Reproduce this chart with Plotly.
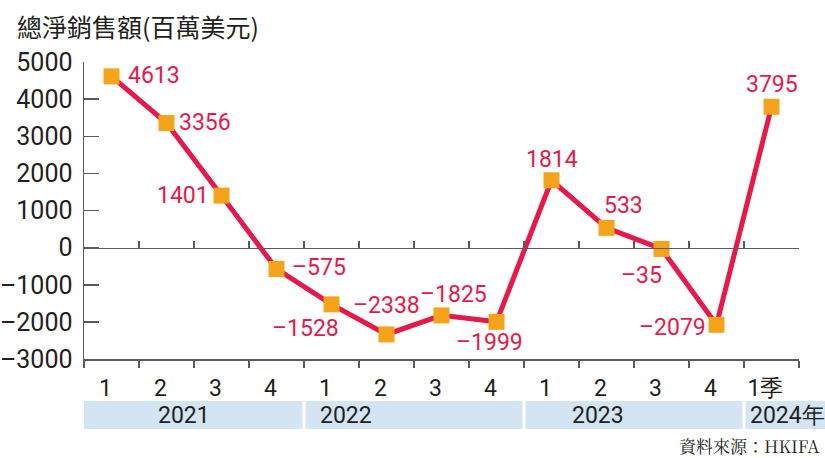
import plotly.graph_objects as go

# ---- data ----
quarters = ["1", "2", "3", "4", "1", "2", "3", "4", "1", "2", "3", "4", "1季"]
values = [4613, 3356, 1401, -575, -1528, -2338, -1825, -1999, 1814, 533, -35, -2079, 3795]
years = ["2021", "2022", "2023", "2024年"]
year_start = [0, 4, 8, 12]
year_end = [4, 8, 12, 13]
y_ticks = [-3000, -2000, -1000, 0, 1000, 2000, 3000, 4000, 5000]

# label offsets (pixels) relative to each marker
label_dx = [42, 38, -39, 42, -26, 0, 12, -7, 0, 17, -20, -44, 0]
label_dy = [1, 1, 0, 1, -24, 29, 21, -21, 21, 22, -27, -3, 22]
year_label_dx = [100, 40, 72, 42]  # px from band start

FONT = "Liberation Sans Narrow, Arial Narrow, Roboto, Liberation Sans, sans-serif"
TXT = "#231f20"
RED = "#e8194a"
ORANGE = "#f5a31a"
BAND = "#d3e4f3"
AXC = "#5a5a5a"

W, H = 825, 458
L, R, T, B = 84, 26, 62, 99
PW = W - L - R
PH = H - T - B

x = list(range(len(values)))
bounds = [i - 0.5 for i in range(len(values) + 1)]

def fmt(v):
    return str(v).replace("-", "–")

def py(pix):
    """pixel row -> paper y"""
    return (T + PH - pix) / PH

fig = go.Figure()
fig.add_trace(go.Scatter(
    x=x, y=values, mode="lines+markers",
    line=dict(color=RED, width=5),
    marker=dict(symbol="square", size=16, color=ORANGE),
    hoverinfo="skip", showlegend=False, cliponaxis=False,
))
# invisible trace for the zero-line axis
fig.add_trace(go.Scatter(x=[x[0]], y=[0], xaxis="x2", mode="markers",
                         marker=dict(opacity=0), hoverinfo="skip", showlegend=False))

annotations = []
for xi, v, dx, dy in zip(x, values, label_dx, label_dy):
    annotations.append(dict(
        x=xi, y=v, xref="x", yref="y", text=fmt(v), showarrow=False,
        xshift=dx, yshift=dy, xanchor="center", yanchor="middle",
        font=dict(family=FONT, size=23, color=RED),
    ))

shapes = []
n = len(values)
gap = 1.5 / PW
for i, (yr, s, e) in enumerate(zip(years, year_start, year_end)):
    x0 = s / n + (0 if i == 0 else gap)
    x1 = e / n - gap if i < len(years) - 1 else (W - L) / PW
    shapes.append(dict(type="rect", xref="paper", yref="paper",
                       x0=x0, x1=x1, y0=py(429), y1=py(401),
                       fillcolor=BAND, line=dict(width=0), layer="below"))
    annotations.append(dict(
        x=x0, y=py(415), xref="paper", yref="paper",
        text=yr, showarrow=False, xanchor="center", yanchor="middle", xshift=year_label_dx[i],
        font=dict(family=FONT, size=23, color=TXT),
    ))

annotations.append(dict(
    x=1, y=py(446), xref="paper", yref="paper", text="資料來源：HKIFA",
    showarrow=False, xanchor="right", yanchor="middle", xshift=23,
    font=dict(family="Noto Serif CJK TC, DejaVu Serif, serif", size=17, color=TXT),
))

fig.update_layout(
    width=W, height=H,
    margin=dict(l=L, r=R, t=T, b=B, pad=0, autoexpand=False),
    paper_bgcolor="white", plot_bgcolor="white",
    title=dict(text="總淨銷售額(百萬美元)", x=17 / W, xanchor="left", xref="container",
               y=1 - 28 / H, yanchor="middle", yref="container", automargin=False,
               font=dict(family="Liberation Sans Narrow, Noto Sans CJK TC, sans-serif", size=25, color=TXT)),
    xaxis=dict(range=[-0.5, n - 0.5], tickmode="array", tickvals=x, ticktext=quarters,
               showgrid=False, zeroline=False, showline=True, linecolor=AXC, linewidth=1.5,
               ticks="", ticklabelstandoff=8, ticklabelshift=-6, automargin=False,
               tickfont=dict(family=FONT, size=23, color=TXT),
               minor=dict(tickmode="array", tickvals=bounds, ticks="outside", ticklen=7,
                          tickwidth=1.5, tickcolor=AXC, showgrid=False)),
    xaxis2=dict(range=[-0.5, n - 0.5], overlaying="x", anchor="free", position=3000 / 8000,
                showline=True, linecolor=AXC, linewidth=1.5, showgrid=False, zeroline=False,
                tickmode="array", tickvals=bounds, ticks="inside", ticklen=7, tickwidth=1.5,
                tickcolor=AXC, showticklabels=False, side="bottom", automargin=False),
    yaxis=dict(range=[-3000, 5000], tickmode="array", tickvals=y_ticks,
               ticktext=[fmt(t) for t in y_ticks], showgrid=False, zeroline=False,
               showline=True, linecolor=AXC, linewidth=1.5, ticks="inside", ticklen=15,
               tickwidth=1.5, tickcolor=AXC, ticklabelstandoff=5, automargin=False,
               tickfont=dict(family=FONT, size=25, color=TXT)),
    shapes=shapes, annotations=annotations,
)

fig.write_html("out.html", config={"displayModeBar": False, "staticPlot": True},
               post_script="document.body.style.margin='0';document.body.style.overflow='hidden';")
